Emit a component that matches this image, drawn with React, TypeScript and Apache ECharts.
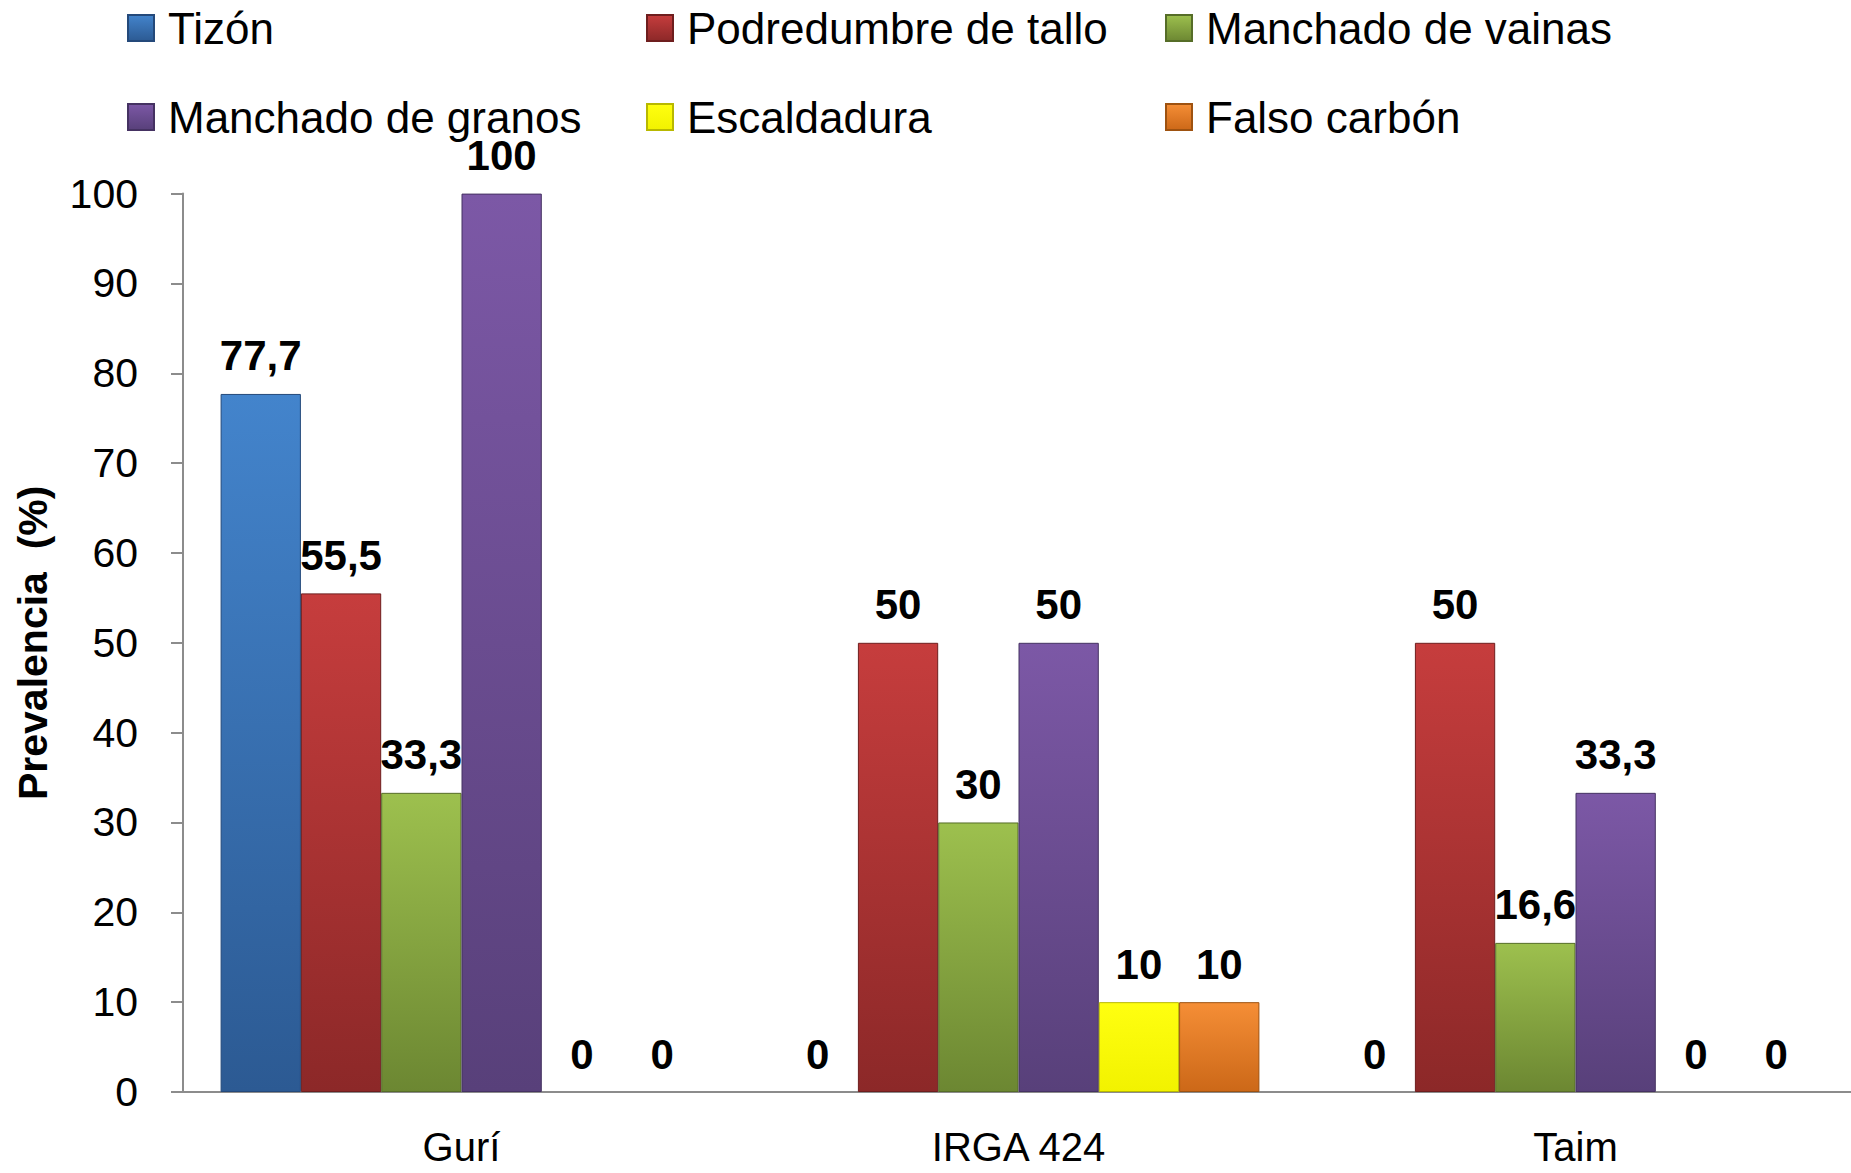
import React, { useEffect, useRef } from "react";
import * as echarts from "echarts";

const categories = ["Gurí", "IRGA 424", "Taim"];
const seriesNames = [
  "Tizón",
  "Podredumbre de tallo",
  "Manchado de vainas",
  "Manchado de granos",
  "Escaldadura",
  "Falso carbón",
];
const tizon = [77.7, 0, 0];
const podredumbre = [55.5, 50, 50];
const manchadoVainas = [33.3, 30, 16.6];
const manchadoGranos = [100, 50, 33.3];
const escaldadura = [0, 10, 0];
const falsoCarbon = [0, 10, 0];
const yTicks = { min: 0, max: 100, interval: 10 };

const FONT = "'Liberation Sans', Arial, sans-serif";

const palette = [
  { top: "#4384CC", bottom: "#2C5A93", edge: "#24497A" },
  { top: "#C63D3D", bottom: "#8C2828", edge: "#6E1E1E" },
  { top: "#9DC04E", bottom: "#6C8732", edge: "#566D28" },
  { top: "#7C58A6", bottom: "#58407A", edge: "#453262" },
  { top: "#FFFF10", bottom: "#F2F200", edge: "#B8B800" },
  { top: "#F58E36", bottom: "#CC6818", edge: "#9E5210" },
];

export default function App() {
  const ref = useRef<HTMLDivElement>(null);
  useEffect(() => {
    if (!ref.current) return;
    const chart = echarts.init(ref.current, null, { renderer: "svg" });
    const values = [tizon, podredumbre, manchadoVainas, manchadoGranos, escaldadura, falsoCarbon];
    const legendPos = [
      { left: 122, top: 1 },
      { left: 641, top: 1 },
      { left: 1160, top: 1 },
      { left: 122, top: 90 },
      { left: 641, top: 90 },
      { left: 1160, top: 90 },
    ];
    chart.setOption({
      animation: false,
      backgroundColor: "#ffffff",
      textStyle: { fontFamily: FONT },
      legend: seriesNames.map((n, i) => ({
        data: [n],
        left: legendPos[i].left,
        top: legendPos[i].top,
        itemWidth: 26,
        itemHeight: 26,
        icon: "rect",
        textStyle: {
          fontFamily: FONT,
          fontSize: 44,
          color: "#000",
          padding: [0, 0, 0, 9],
        },
        selectedMode: false,
      })),
      grid: {
        left: 183,
        top: 193.6,
        width: 1671,
        bottom: 81,
        containLabel: false,
        outerBoundsMode: "none",
      },
      xAxis: {
        type: "category",
        data: categories,
        axisLine: { lineStyle: { color: "#8c8c8c", width: 2 } },
        axisTick: { show: false },
        axisLabel: { color: "#000", fontSize: 40, fontFamily: FONT, margin: 35 },
      },
      yAxis: {
        type: "value",
        min: yTicks.min,
        max: yTicks.max,
        interval: yTicks.interval,
        name: "Prevalencia  (%)",
        nameLocation: "middle",
        nameGap: 130,
        nameRotate: 90,
        nameTextStyle: { color: "#000", fontSize: 41, fontWeight: "bold", fontFamily: FONT },
        axisLine: { show: true, lineStyle: { color: "#8c8c8c", width: 2 } },
        axisTick: { show: true, length: 12, lineStyle: { color: "#8c8c8c", width: 2 } },
        splitLine: { show: false },
        axisLabel: { color: "#000", fontSize: 41, fontFamily: FONT, margin: 45 },
      },
      series: seriesNames.map((n, i) => ({
        name: n,
        type: "bar",
        data: values[i].map((v) =>
          v === 0 ? { value: v, itemStyle: { borderWidth: 0, opacity: 0 } } : v
        ),
        barGap: "0%",
        barCategoryGap: "13.5%",
        itemStyle: {
          color: new echarts.graphic.LinearGradient(0, 0, 0, 1, [
            { offset: 0, color: palette[i].top },
            { offset: 1, color: palette[i].bottom },
          ]),
          borderColor: palette[i].edge,
          borderWidth: 1,
        },
        label: {
          show: true,
          position: "top",
          distance: 17,
          color: "#000",
          fontSize: 42,
          fontWeight: "bold",
          fontFamily: FONT,
          opacity: 1,
          formatter: (p: any) => String(p.value).replace(".", ","),
        },
      })),
    });
    return () => chart.dispose();
  }, []);
  return (
    <div
      ref={ref}
      style={{ position: "fixed", left: 0, top: 0, width: 1851, height: 1173 }}
    />
  );
}
